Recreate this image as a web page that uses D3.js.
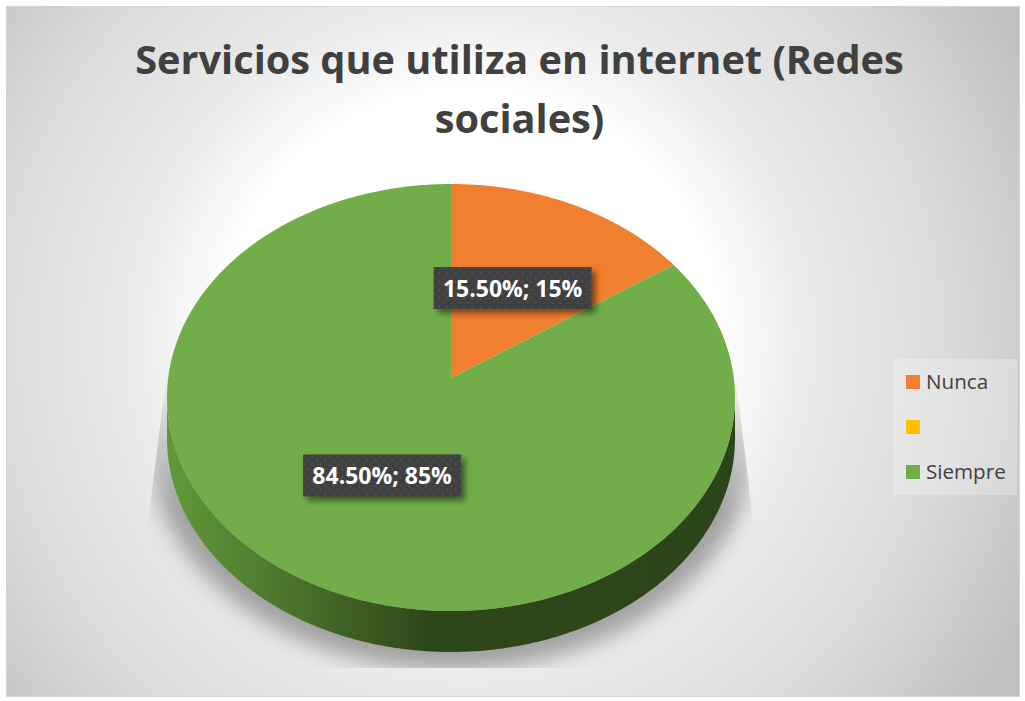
<!DOCTYPE html>
<html>
<head>
<meta charset="utf-8">
<script src="https://cdnjs.cloudflare.com/ajax/libs/d3/7.8.5/d3.min.js"></script>
<style>
html, body { margin: 0; padding: 0; background: #fff; overflow: hidden; }
svg { display: block; }
text { font-family: "Open Sans", sans-serif; }
</style>
</head>
<body>
<script>
// chart values
var categories = ["Nunca", "", "Siempre"];
var values = [15.5, 0, 84.5];
var rounded = [15, 0, 85];
var colors = ["#f07f30", "#ffc000", "#71ae49"];
var titleLines = ["Servicios que utiliza en internet (Redes", "sociales)"];

var width = 1025, height = 701;

// the pie is tilted: unit circle -> picture through a perspective map
var cx = 451, k = 282.8, persp = -0.0913, ya = 177.2, yb = 378, depth = 41;

function project(angle, r) {
    var x = r * Math.sin(angle), y = -r * Math.cos(angle);
    var w = 1 + persp * y;
    return [cx + k * x / w, (ya * y + yb) / w];
}

var svg = d3.select("body").append("svg")
    .attr("width", width)
    .attr("height", height);

var defs = svg.append("defs");

var bg = defs.append("radialGradient")
    .attr("id", "bg")
    .attr("gradientUnits", "userSpaceOnUse")
    .attr("cx", 470).attr("cy", 340).attr("r", 620);
bg.selectAll("stop")
    .data([[0, "#ffffff"], [0.4, "#ffffff"], [0.53, "#ececec"], [0.78, "#dadada"], [1, "#c1c1c1"]])
    .join("stop")
    .attr("offset", d => d[0])
    .attr("stop-color", d => d[1]);

var wallGrad = defs.append("linearGradient")
    .attr("id", "wall")
    .attr("gradientUnits", "userSpaceOnUse")
    .attr("x1", 167).attr("x2", 735).attr("y1", 0).attr("y2", 0);
wallGrad.selectAll("stop")
    .data([[0, "#5f9a3a"], [0.22, "#4b722b"], [0.46, "#2d471a"], [1, "#2c4419"]])
    .join("stop")
    .attr("offset", d => d[0])
    .attr("stop-color", d => d[1]);

defs.append("filter").attr("id", "blur")
    .attr("x", "-20%").attr("y", "-20%").attr("width", "140%").attr("height", "140%")
    .append("feGaussianBlur").attr("stdDeviation", 10);

var labelShadow = defs.append("filter").attr("id", "labelShadow")
    .attr("x", "-20%").attr("y", "-40%").attr("width", "140%").attr("height", "180%");
labelShadow.append("feDropShadow")
    .attr("dx", 4).attr("dy", 4).attr("stdDeviation", 3)
    .attr("flood-color", "#000").attr("flood-opacity", 0.5);

var dots = defs.append("pattern")
    .attr("id", "dots")
    .attr("patternUnits", "userSpaceOnUse")
    .attr("width", 8.4).attr("height", 8.4);
dots.append("rect").attr("width", 8.4).attr("height", 8.4).attr("fill", "#404040");
dots.append("circle").attr("cx", 2).attr("cy", 2).attr("r", 1).attr("fill", "#555555");
dots.append("circle").attr("cx", 6.2).attr("cy", 6.2).attr("r", 1).attr("fill", "#4d4d4d");

defs.append("clipPath").attr("id", "shadowClip")
    .append("path")
    .attr("d", "M167,370 L147,530 L147,668 L754,668 L754,530 L735,370 Z");

var fade = defs.append("linearGradient")
    .attr("id", "shadowFade")
    .attr("gradientUnits", "userSpaceOnUse")
    .attr("x1", 0).attr("x2", 0).attr("y1", 370).attr("y2", 510);
fade.selectAll("stop")
    .data([[0, "#000"], [1, "#fff"]])
    .join("stop")
    .attr("offset", d => d[0])
    .attr("stop-color", d => d[1]);

defs.append("mask").attr("id", "shadowMask")
    .attr("maskUnits", "userSpaceOnUse")
    .attr("x", 0).attr("y", 0).attr("width", width).attr("height", height)
    .append("rect")
    .attr("width", width).attr("height", height)
    .attr("fill", "url(#shadowFade)");

// background
svg.append("rect")
    .attr("x", 6.5).attr("y", 6.5)
    .attr("width", 1013).attr("height", 690)
    .attr("fill", "url(#bg)")
    .attr("stroke", "#d4d4d4");

// title
svg.append("g").selectAll("text")
    .data(titleLines)
    .join("text")
    .attr("x", 519.5)
    .attr("y", (d, i) => 74 + i * 59)
    .attr("text-anchor", "middle")
    .attr("font-size", 39.7)
    .attr("font-weight", 700)
    .attr("fill", "#404040")
    .text(d => d);

var fullTurn = d3.range(0, 2 * Math.PI, 0.01).map(a => project(a, 1));
var outline = d3.line();

// shadow under the pie
svg.append("g")
    .attr("clip-path", "url(#shadowClip)")
    .append("g")
    .attr("mask", "url(#shadowMask)")
    .append("path")
    .attr("d", outline(fullTurn) + "Z")
    .attr("transform", "translate(451,442) scale(1.065) translate(-451,-397)")
    .attr("fill", "#a0a0a0")
    .attr("filter", "url(#blur)");

// side wall
var wallPts = fullTurn.filter(p => p[1] >= 397).sort((a, b) => a[0] - b[0]);
var area = d3.area().x(d => d[0]).y0(d => d[1]).y1(d => d[1] + depth);
svg.append("path")
    .attr("d", area(wallPts))
    .attr("fill", "url(#wall)");

// slices
var pie = d3.pie().sort(null).value(d => d);
var arcs = pie(values);

function slicePath(d) {
    var angles = d3.range(d.startAngle, d.endAngle, 0.01).concat(d.endAngle);
    var pts = angles.map(a => project(a, 1));
    if (d.endAngle - d.startAngle < 2 * Math.PI) pts.unshift(project(0, 0));
    return outline(pts) + "Z";
}

svg.append("g").selectAll("path")
    .data(arcs.filter(d => d.value > 0))
    .join("path")
    .attr("d", slicePath)
    .attr("fill", d => colors[d.index]);

// data labels
var label = svg.append("g").selectAll("g")
    .data(arcs.filter(d => d.value > 0))
    .join("g")
    .attr("transform", function(d) {
        var p = project((d.startAngle + d.endAngle) / 2, 0.5);
        // the first box sits a touch left of its slice's middle
        return "translate(" + (p[0] - (d.index == 0 ? 2 : 0)) + "," + p[1] + ")";
    });

label.append("rect")
    .attr("x", -79).attr("y", -21)
    .attr("width", 158).attr("height", 42)
    .attr("fill", "url(#dots)")
    .attr("filter", "url(#labelShadow)");

label.append("text")
    .attr("text-anchor", "middle")
    .attr("y", 8.5)
    .attr("font-size", 23)
    .attr("font-weight", 700)
    .attr("fill", "#ffffff")
    .text(d => d3.format(".2f")(d.value) + "%; " + rounded[d.index] + "%");

// legend
svg.append("rect")
    .attr("x", 893).attr("y", 359)
    .attr("width", 124).attr("height", 136)
    .attr("fill", "#ffffff")
    .attr("opacity", 0.25);

var legendY = d3.scalePoint()
    .domain(d3.range(categories.length))
    .range([382, 472]);

var legend = svg.append("g").selectAll("g")
    .data(categories)
    .join("g")
    .attr("transform", (d, i) => "translate(906," + legendY(i) + ")");

legend.append("rect")
    .attr("y", -7)
    .attr("width", 14).attr("height", 14)
    .attr("fill", (d, i) => colors[i]);

legend.append("text")
    .attr("x", 20)
    .attr("y", 7)
    .attr("font-size", 20.6)
    .attr("fill", "#404040")
    .text(d => d);
</script>
</body>
</html>
